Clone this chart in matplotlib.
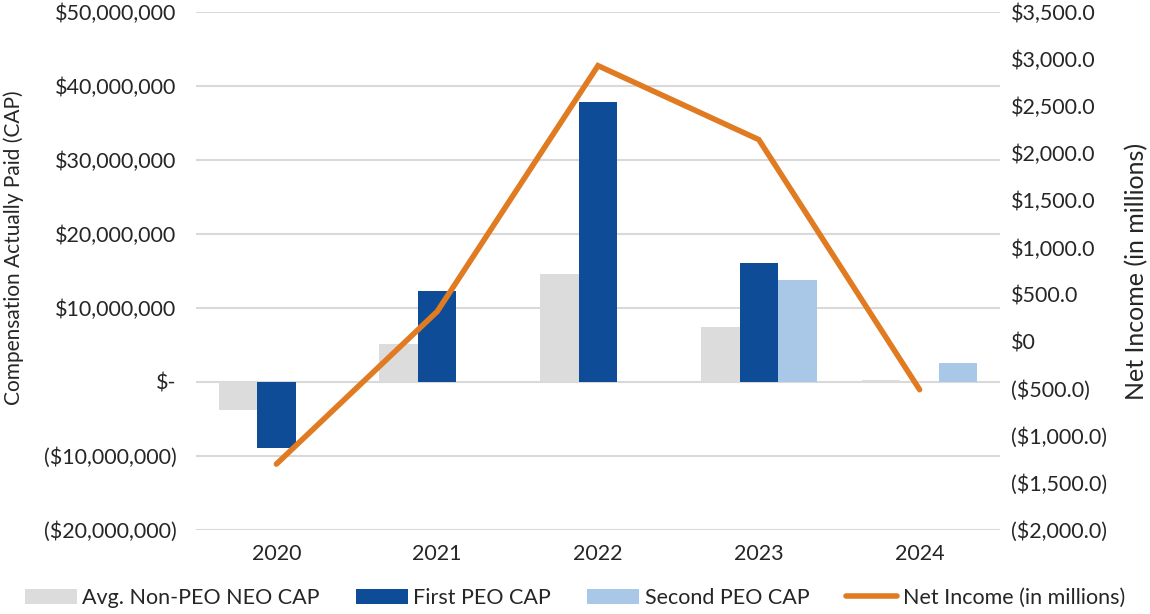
import matplotlib
matplotlib.use("Agg")
from matplotlib import pyplot as plt
from matplotlib.ticker import FuncFormatter
import numpy as np

plt.rcParams['font.family'] = ['Lato', 'DejaVu Sans']

# chart data
years = ["2020", "2021", "2022", "2023", "2024"]
avg_non_peo_cap = [-3.8e6, 5.1e6, 14.6e6, 7.4e6, 0.3e6]
first_peo_cap = [-8.9e6, 12.3e6, 37.9e6, 16.1e6, 0.0]
second_peo_cap = [0.0, 0.0, 0.0, 13.8e6, 2.6e6]
net_income = [-1300.0, 320.0, 2930.0, 2145.0, -510.0]

GRAY = "#DCDCDC"
DARK = "#0F4C97"
LIGHT = "#A9C8E8"
ORANGE = "#E07B22"
TEXT = "#262626"


def money_left(v, pos):
    if abs(v) < 1:
        return "$-"
    if v < 0:
        return "(${:,.0f})".format(-v)
    return "${:,.0f}".format(v)


def money_right(v, pos):
    if abs(v) < 1e-6:
        return "$0"
    if v < 0:
        return "(${:,.1f})".format(-v)
    return "${:,.1f}".format(v)


fig = plt.figure(figsize=(11.5, 6.14), dpi=100)
ax = fig.add_axes([196 / 1150, 1 - 530 / 614, 804 / 1150, 518 / 614])
ax2 = ax.twinx()

x = np.arange(len(years))
w = 0.24
ax.bar(x - w, avg_non_peo_cap, w, color=GRAY, label="Avg. Non-PEO NEO CAP", zorder=2)
ax.bar(x, first_peo_cap, w, color=DARK, label="First PEO CAP", zorder=2)
ax.bar(x + w, second_peo_cap, w, color=LIGHT, label="Second PEO CAP", zorder=2)
ax2.plot(x, net_income, color=ORANGE, lw=4, solid_capstyle='round',
         solid_joinstyle='miter', label="Net Income (in millions)")

ax.set_xlim(-0.5, len(years) - 0.5)
ax.set_ylim(-20e6, 50e6)
ax.set_yticks(np.arange(-20e6, 50e6 + 1, 10e6))
ax.yaxis.set_major_formatter(FuncFormatter(money_left))
ax2.set_ylim(-2000, 3500)
ax2.set_yticks(np.arange(-2000, 3501, 500))
ax2.yaxis.set_major_formatter(FuncFormatter(money_right))

ax.set_xticks(x)
ax.set_xticklabels(years)
ax.grid(axis='y', color="#D9D9D9", lw=1.5, zorder=0)
ax.set_axisbelow(True)

for a in (ax, ax2):
    for s in a.spines.values():
        s.set_visible(False)
    a.tick_params(length=0, labelsize=15.5, colors=TEXT)
ax.tick_params(axis='y', pad=14)
ax2.tick_params(axis='y', pad=8)
ax.tick_params(axis='x', pad=10)

ax.set_ylabel("Compensation Actually Paid (CAP)", fontsize=15, color=TEXT)
ax.yaxis.set_label_coords((24 - 196) / 804, 0.545)
ax2.set_ylabel("Net Income (in millions)", fontsize=18, color=TEXT)
ax2.yaxis.set_label_coords((1125 - 196) / 804, 0.5)

h1, l1 = ax.get_legend_handles_labels()
h2, l2 = ax2.get_legend_handles_labels()
fig.legend(h1 + h2, l1 + l2, loc='center', bbox_to_anchor=(0.5, 1 - 598 / 614),
           ncol=4, frameon=False, fontsize=15.5, handlelength=2.4, handleheight=0.75,
           handletextpad=0.25, columnspacing=1.7, labelcolor=TEXT)

fig.savefig("out.png", dpi=100)
